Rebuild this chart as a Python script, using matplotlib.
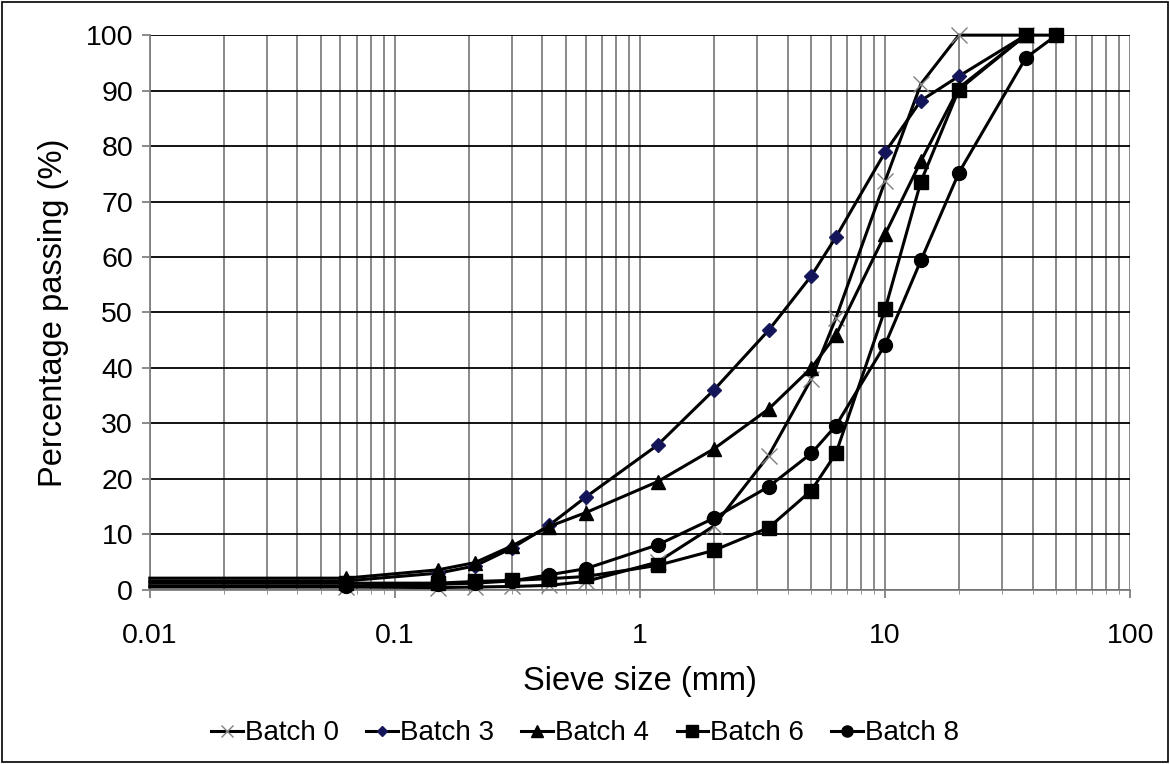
import numpy as np
import matplotlib
matplotlib.use("Agg")
import matplotlib.pyplot as plt
from matplotlib.ticker import LogLocator, FixedLocator, NullFormatter

plt.rcParams['font.family'] = ['Liberation Sans', 'DejaVu Sans']

# sieve sizes (mm); first entry is the pan, drawn at the axis edge without a marker
SIEVES = [0.01, 0.063, 0.15, 0.212, 0.3, 0.425, 0.6, 1.18, 2, 3.35, 5, 6.3, 10, 14, 20, 37.5, 50]

BATCH_0 = [0.5, 0.5, 0.4, 0.5, 0.6, 0.8, 1.5, 5.0, 11.5, 24.2, 38.0, 49.0, 73.7, 91.2, 100, 100, np.nan]
BATCH_3 = [1.6, 1.6, 3.0, 4.3, 7.5, 11.6, 16.7, 26.1, 36.0, 46.8, 56.6, 63.6, 78.9, 88.2, 92.6, 100, np.nan]
BATCH_4 = [2.1, 2.1, 3.6, 4.9, 7.9, 11.4, 13.9, 19.5, 25.4, 32.6, 40.0, 45.9, 64.1, 77.3, 90.5, 100, np.nan]
BATCH_6 = [1.2, 1.2, 1.2, 1.5, 1.7, 2.0, 2.4, 4.4, 7.1, 11.2, 17.9, 24.6, 50.6, 73.6, 90.2, 100, 100]
BATCH_8 = [0.7, 0.7, 1.0, 1.2, 1.6, 2.7, 3.8, 8.1, 12.9, 18.6, 24.6, 29.6, 44.2, 59.4, 75.2, 95.9, 100]

LABELS = ["Batch 0", "Batch 3", "Batch 4", "Batch 6", "Batch 8"]

styles = {
    "Batch 0": dict(marker="x", ms=11, mec="#808080", mfc="#808080", mew=1.0),
    "Batch 3": dict(marker="D", ms=7, mec="#1a1a5a", mfc="#14145a", mew=1.0),
    "Batch 4": dict(marker="^", ms=10, mec="black", mfc="black"),
    "Batch 6": dict(marker="s", ms=10, mec="black", mfc="black"),
    "Batch 8": dict(marker="o", ms=10, mec="black", mfc="black"),
}
series = dict(zip(LABELS, [BATCH_0, BATCH_3, BATCH_4, BATCH_6, BATCH_8]))

fig = plt.figure(figsize=(11.7, 7.64), dpi=100)
ax = fig.add_axes([0.128, 0.228, 0.838, 0.726])

for label in LABELS:
    ax.plot(SIEVES, series[label], color="black", lw=2.2, label=label,
            markevery=slice(1, None), clip_on=False, zorder=3, **styles[label])

ax.set_xscale("log")
ax.set_xlim(0.01, 100)
ax.set_ylim(0, 100)

ax.xaxis.set_major_locator(FixedLocator([0.01, 0.1, 1, 10, 100]))
ax.set_xticklabels(["0.01", "0.1", "1", "10", "100"])
ax.xaxis.set_minor_locator(LogLocator(base=10, subs=np.arange(2, 10)))
ax.xaxis.set_minor_formatter(NullFormatter())
ax.set_yticks(np.arange(0, 101, 10))

ax.grid(True, axis="x", which="both", color="#808080", lw=1.3)
ax.grid(True, axis="y", which="major", color="black", lw=1.3)
ax.set_axisbelow(True)

for s in ["top", "right"]:
    ax.spines[s].set_visible(False)
ax.spines["left"].set_color("#808080")
ax.spines["bottom"].set_color("#808080")
ax.spines["left"].set_linewidth(1.3)
ax.spines["bottom"].set_linewidth(1.3)

ax.tick_params(axis="both", which="major", labelsize=20.5, length=6, color="#808080", width=1.3)
ax.tick_params(axis="x", which="minor", length=3, color="#808080")
ax.tick_params(axis="x", pad=18)
ax.tick_params(axis="y", pad=6)

ax.set_xlabel("Sieve size (mm)", fontsize=23.5, labelpad=12)
ax.set_ylabel("Percentage passing (%)", fontsize=23.5, labelpad=12)

leg = fig.legend(loc="center", bbox_to_anchor=(0.5, 0.04), ncol=5, frameon=False,
                 fontsize=20, handlelength=1.15, handletextpad=0.05, columnspacing=1.0,
                 borderaxespad=0)
for h in leg.legend_handles:
    h.set_markersize(h.get_markersize() * 0.8)

# thin frame around the whole picture
fig.patches.append(plt.Rectangle((0.002, 0.002), 0.996, 0.996, transform=fig.transFigure,
                                 fill=False, edgecolor="black", lw=1.2))

fig.savefig("out.png", dpi=100)
